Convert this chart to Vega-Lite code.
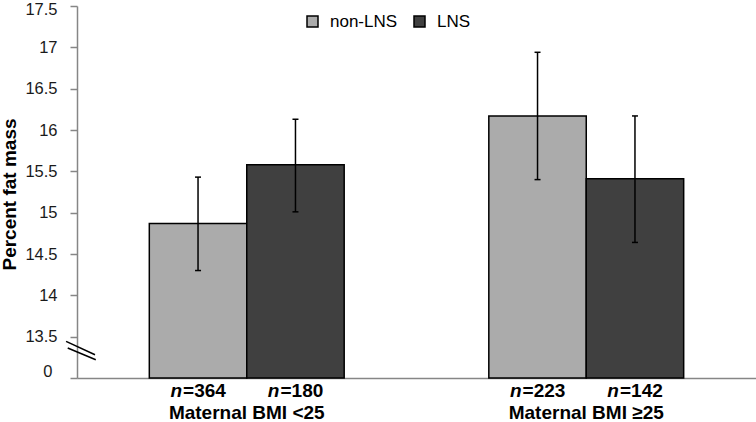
{
  "$schema": "https://vega.github.io/schema/vega-lite/v6.json",
  "width": 679,
  "height": 372,
  "autosize": {"type": "none"},
  "padding": {"left": 77, "top": 6, "right": 0, "bottom": 44},
  "config": {"view": {"stroke": null}, "font": "Liberation Sans"},
  "data": {"values": [
    {"group": "Maternal BMI <25", "trt": "non-LNS", "mean": 14.87, "lo": 14.30, "hi": 15.43, "n": 364},
    {"group": "Maternal BMI <25", "trt": "LNS", "mean": 15.58, "lo": 15.01, "hi": 16.13, "n": 180},
    {"group": "Maternal BMI ≥25", "trt": "non-LNS", "mean": 16.17, "lo": 15.40, "hi": 16.94, "n": 223},
    {"group": "Maternal BMI ≥25", "trt": "LNS", "mean": 15.41, "lo": 14.64, "hi": 16.17, "n": 142}
  ]},
  "layer": [
    {
      "encoding": {
        "x": {"field": "group", "type": "nominal", "sort": null,
          "scale": {"paddingInner": 0.426, "paddingOuter": 0.213},
          "axis": {"title": null, "labelAngle": 0, "labelFont": "Liberation Sans", "labelFontSize": 19, "labelFontWeight": "bold", "labelColor": "black", "ticks": false, "domainColor": "#868686", "domainWidth": 1.5, "labelBaseline": "alphabetic", "labelPadding": 40}},
        "xOffset": {"field": "trt", "type": "nominal", "sort": ["non-LNS", "LNS"], "scale": {"paddingInner": 0, "paddingOuter": 0}}
      },
      "layer": [
        {
          "mark": {"type": "bar", "stroke": "black", "strokeWidth": 1.5},
          "encoding": {
            "y": {"field": "mean", "type": "quantitative",
              "scale": {"domain": [13, 17.5], "zero": false, "nice": false},
              "axis": {"title": "Percent fat mass", "titleFont": "Liberation Sans", "titleFontSize": 19, "titleFontWeight": "bold", "titleColor": "black", "titleAngle": -90, "titleX": -62, "titleY": 188, "titleAlign": "center", "titleBaseline": "alphabetic",
                "values": [13, 13.5, 14, 14.5, 15, 15.5, 16, 16.5, 17, 17.5],
                "labelExpr": "datum.value == 13 ? '0' : '' + datum.value",
                "labelFont": "Liberation Sans", "labelFontSize": 16.5, "labelColor": "#1a1a1a",
                "labelPadding": {"condition": {"test": "datum.value == 13", "value": 18}, "value": 13},
                "labelOffset": {"condition": [{"test": "datum.value == 13", "value": -7}, {"test": "datum.value == 17.5", "value": 3}], "value": 0},
                "tickSize": 7, "tickColor": "#868686", "tickWidth": 1.5, "domainColor": "#868686", "domainWidth": 1.5, "grid": false}},
            "y2": {"datum": 13},
            "fill": {"field": "trt", "type": "nominal", "sort": ["non-LNS", "LNS"],
              "scale": {"domain": ["non-LNS", "LNS"], "range": ["#ABABAB", "#404040"]},
              "legend": {"title": null, "orient": "none", "legendX": 227, "legendY": 7, "direction": "horizontal", "symbolType": "square", "symbolSize": 121, "symbolStrokeColor": "black", "symbolStrokeWidth": 1.5, "labelFontSize": 17, "labelFont": "Liberation Sans", "labelColor": "black", "labelOffset": 9, "columnPadding": 13, "padding": 0}}
          }
        },
        {
          "mark": {"type": "rule", "stroke": "black", "strokeWidth": 1.5},
          "encoding": {
            "y": {"field": "lo", "type": "quantitative"},
            "y2": {"field": "hi"}
          }
        },
        {
          "mark": {"type": "tick", "color": "black", "thickness": 1.5, "size": 6, "opacity": 1},
          "encoding": {"y": {"field": "hi", "type": "quantitative"}}
        },
        {
          "mark": {"type": "tick", "color": "black", "thickness": 1.5, "size": 6, "opacity": 1},
          "encoding": {"y": {"field": "lo", "type": "quantitative"}}
        },
        {
          "mark": {"type": "text", "text": "n", "font": "Liberation Sans", "fontSize": 19, "fontWeight": "bold", "fontStyle": "italic", "align": "right", "baseline": "alphabetic", "dx": -16, "dy": 19, "color": "black"},
          "encoding": {"y": {"datum": 13, "type": "quantitative"}}
        },
        {
          "mark": {"type": "text", "text": {"expr": "'=' + datum.n"}, "font": "Liberation Sans", "fontSize": 19, "fontWeight": "bold", "align": "left", "baseline": "alphabetic", "dx": -15, "dy": 19, "color": "black"},
          "encoding": {"y": {"datum": 13, "type": "quantitative"}}
        }
      ]
    },
    {
      "data": {"values": [{}]},
      "mark": {"type": "point", "shape": "M-1,-0.62L0.93,0.27M-0.89,-0.18L0.98,0.6", "size": 900, "stroke": "black", "strokeWidth": 1.5, "filled": false, "opacity": 1},
      "encoding": {
        "x": {"datum": 0.006, "type": "quantitative", "scale": {"domain": [0, 1]}, "axis": null},
        "y": {"datum": 13.33, "type": "quantitative"}
      }
    }
  ],
  "resolve": {"scale": {"x": "independent"}}
}
